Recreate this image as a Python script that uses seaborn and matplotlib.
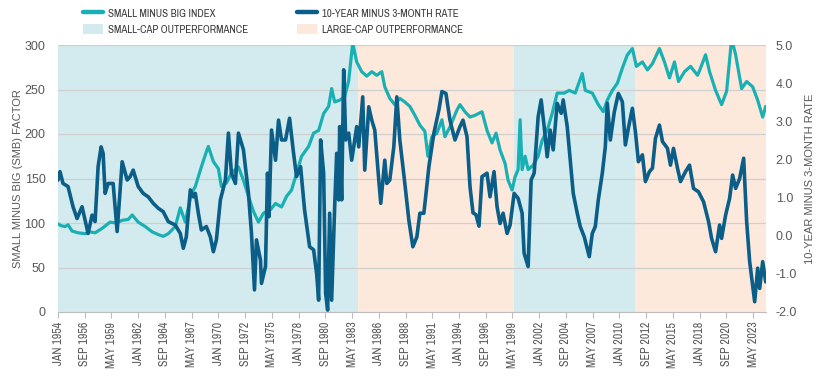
import matplotlib
matplotlib.use("Agg")
import matplotlib.pyplot as plt
import seaborn as sns
from matplotlib import font_manager as fm
from matplotlib.lines import Line2D
from matplotlib.patches import Patch

# ---------------- data ----------------
smb_year = [1954.0, 1954.3, 1954.7, 1955.0, 1955.4, 1956.0, 1956.7, 1957.2, 1957.7, 1958.4,
            1959.2, 1959.8, 1960.4, 1961.0, 1961.4, 1962.0, 1962.7, 1963.4, 1964.0, 1964.5,
            1965.0, 1965.7, 1966.2, 1966.7, 1967.3, 1967.7, 1968.3, 1968.8, 1969.0, 1969.5,
            1970.0, 1970.3, 1970.8, 1971.3, 1972.0, 1972.5, 1973.0, 1973.5, 1974.0, 1974.5,
            1975.2, 1975.7, 1976.3, 1976.8, 1977.3, 1977.8, 1978.3, 1979.0, 1979.5, 1980.0,
            1980.5, 1981.0, 1981.3, 1981.6, 1982.1, 1982.6, 1983.0, 1983.4, 1983.8, 1984.3,
            1984.8, 1985.3, 1985.8, 1986.3, 1986.6, 1987.1, 1987.6, 1988.1, 1988.6, 1989.1,
            1989.6, 1990.1, 1990.6, 1990.9, 1991.3, 1991.8, 1992.3, 1992.6, 1993.1, 1993.8,
            1994.1, 1994.6, 1995.1, 1995.6, 1996.3, 1996.8, 1997.3, 1997.7, 1998.1, 1998.6,
            1998.9, 1999.3, 1999.6, 1999.9, 2000.1, 2000.3, 2000.6, 2000.9, 2001.4, 2001.9,
            2002.3, 2002.8, 2003.3, 2003.8, 2004.5, 2005.0, 2005.6, 2006.3, 2006.6, 2007.3,
            2007.9, 2008.4, 2008.8, 2009.3, 2009.8, 2010.3, 2010.8, 2011.3, 2011.7, 2012.3,
            2012.8, 2013.3, 2014.0, 2014.5, 2015.0, 2015.5, 2015.9, 2016.5, 2017.1, 2017.8,
            2018.1, 2018.6, 2019.0, 2019.6, 2020.2, 2020.7, 2021.2, 2021.6, 2022.2, 2022.7,
            2023.3, 2023.8, 2024.3, 2024.6]
smb_value = [99, 97, 96, 98, 91, 89, 88, 90, 89, 94,
             101, 100, 103, 104, 109, 101, 96, 90, 87, 85,
             88, 96, 117, 101, 133, 141, 163, 180, 186, 169,
             161, 141, 145, 156, 163, 148, 130, 113, 101, 111,
             115, 122, 118, 130, 137, 156, 175, 186, 201, 204,
             223, 231, 251, 236, 238, 242, 260, 302, 281, 270,
             265, 270, 266, 270, 253, 240, 233, 240, 236, 231,
             221, 210, 203, 175, 197, 201, 216, 197, 208, 227,
             233, 225, 219, 221, 225, 204, 190, 201, 182, 167,
             148, 137, 152, 160, 216, 160, 175, 160, 165, 175,
             193, 204, 223, 246, 246, 249, 246, 268, 249, 246,
             233, 225, 238, 249, 257, 274, 289, 296, 276, 281,
             272, 279, 296, 281, 263, 281, 259, 270, 276, 266,
             274, 289, 270, 249, 233, 248, 307, 289, 251, 259,
             253, 238, 219, 231]

rate_year = [1954.0, 1954.2, 1954.5, 1955.0, 1955.5, 1955.9, 1956.4, 1956.7, 1957.0, 1957.4,
             1957.7, 1958.0, 1958.3, 1958.5, 1958.7, 1959.0, 1959.5, 1959.9, 1960.2, 1960.4,
             1960.9, 1961.2, 1961.5, 1962.0, 1962.5, 1963.0, 1963.5, 1964.0, 1964.5, 1965.0,
             1965.7, 1966.2, 1966.5, 1966.8, 1967.2, 1967.5, 1967.7, 1968.0, 1968.3, 1968.8,
             1969.2, 1969.5, 1969.8, 1970.2, 1970.7, 1971.0, 1971.3, 1971.7, 1972.0, 1972.5,
             1973.0, 1973.3, 1973.6, 1973.8, 1974.2, 1974.3, 1974.7, 1974.9, 1975.05, 1975.3,
             1975.7, 1976.0, 1976.3, 1976.7, 1977.1, 1977.5, 1977.8, 1978.2, 1978.6, 1979.1,
             1979.5, 1979.8, 1980.0, 1980.2, 1980.5, 1980.7, 1980.9, 1981.1, 1981.3, 1981.6,
             1981.8, 1982.0, 1982.1, 1982.3, 1982.5, 1982.7, 1983.0, 1983.3, 1983.8, 1984.0,
             1984.4, 1984.6, 1985.0, 1985.3, 1985.6, 1986.0, 1986.2, 1986.6, 1986.8, 1987.1,
             1987.5, 1987.8, 1988.1, 1988.6, 1989.0, 1989.4, 1989.8, 1990.1, 1990.5, 1991.0,
             1991.5, 1992.0, 1992.3, 1992.7, 1993.1, 1993.6, 1994.1, 1994.4, 1994.8, 1995.1,
             1995.4, 1995.7, 1996.0, 1996.3, 1996.8, 1997.1, 1997.5, 1997.8, 1998.1, 1998.4,
             1998.8, 1999.1, 1999.5, 1999.9, 2000.3, 2000.5, 2000.9, 2001.2, 2001.5, 2001.9,
             2002.2, 2002.5, 2002.8, 2003.1, 2003.4, 2003.8, 2004.2, 2004.4, 2004.8, 2005.1,
             2005.4, 2005.8, 2006.1, 2006.5, 2007.0, 2007.3, 2007.6, 2007.9, 2008.3, 2008.6,
             2008.8, 2009.1, 2009.5, 2009.9, 2010.3, 2010.6, 2010.9, 2011.3, 2011.6, 2011.9,
             2012.3, 2012.6, 2013.0, 2013.3, 2013.6, 2014.0, 2014.3, 2014.8, 2015.1, 2015.4,
             2015.8, 2016.1, 2016.6, 2017.0, 2017.4, 2017.9, 2018.4, 2018.9, 2019.2, 2019.6,
             2020.0, 2020.2, 2020.6, 2021.0, 2021.3, 2021.6, 2022.0, 2022.4, 2022.7, 2023.0,
             2023.5, 2023.8, 2024.0, 2024.3, 2024.6]
rate_value = [1.46, 1.68, 1.37, 1.29, 0.76, 0.45, 0.76, 0.41, 0.06, 0.54,
              0.37, 1.81, 2.33, 2.16, 1.11, 1.37, 1.37, 0.11, 1.20, 1.94,
              1.46, 1.55, 1.72, 1.29, 1.11, 1.02, 0.85, 0.72, 0.63, 0.37,
              0.28, 0.06, -0.33, -0.03, 1.20, 1.02, 1.11, 0.59, 0.15, 0.24,
              -0.03, -0.42, -0.11, 0.94, 1.46, 2.69, 1.64, 1.37, 2.69, 2.25,
              1.11, 0.06, -1.42, -0.11, -0.64, -1.25, -0.81, 1.64, 0.50, 2.77,
              1.98, 3.03, 2.51, 2.51, 3.08, 2.16, 1.55, 1.81, 0.67, -0.29,
              -0.37, -0.99, -1.69, 2.51, 1.64, -1.51, -1.95, 0.59, -1.69, 0.76,
              2.16, 0.94, 2.86, 0.94, 4.35, 2.51, 2.69, 1.98, 2.86, 2.33,
              3.64, 1.72, 3.38, 3.03, 2.77, 1.46, 0.85, 1.98, 1.37, 1.46,
              2.33, 3.64, 2.51, 1.37, 0.41, -0.29, -0.03, 0.59, 0.59, 1.81,
              2.69, 3.30, 3.78, 3.73, 3.03, 2.51, 2.86, 3.03, 2.60, 1.29,
              0.60, 0.55, 0.25, 1.55, 1.64, 1.02, 1.68, 0.76, 0.32, 0.59,
              0.06, 0.28, 1.11, 0.98, 0.59, -0.46, -0.81, 1.46, 1.64, 3.12,
              3.56, 2.86, 2.07, 2.77, 2.25, 3.47, 3.21, 3.56, 2.86, 1.98,
              1.11, 0.59, 0.24, -0.03, -0.55, 0.06, 0.24, 0.94, 1.64, 2.33,
              3.47, 2.51, 3.25, 3.73, 3.51, 2.38, 2.82, 3.34, 2.73, 1.94,
              2.12, 1.42, 1.68, 1.77, 2.55, 2.90, 2.47, 2.29, 1.85, 2.29,
              1.77, 1.42, 1.68, 1.85, 1.24, 1.15, 0.89, 0.37, -0.07, -0.42,
              0.28, -0.07, 0.54, 0.98, 1.59, 1.24, 1.50, 2.03, 0.37, -0.68,
              -1.73, -0.85, -1.38, -0.68, -1.21]

period_start = [1954.0, 1983.92, 1999.52, 2011.6]
period_end = [1983.92, 1999.52, 2011.6, 2024.63]
period_kind = ["small", "large", "small", "large"]

tick_labels = ["JAN 1954", "SEP 1956", "MAY 1959", "JAN 1962", "SEP 1964", "MAY 1967",
               "JAN 1970", "SEP 1972", "MAY 1975", "JAN 1978", "SEP 1980", "MAY 1983",
               "JAN 1986", "SEP 1988", "MAY 1991", "JAN 1994", "SEP 1996", "MAY 1999",
               "JAN 2002", "SEP 2004", "MAY 2007", "JAN 2010", "SEP 2012", "MAY 2015",
               "JAN 2018", "SEP 2020", "MAY 2023"]
left_ticks = [0, 50, 100, 150, 200, 250, 300]
right_ticks = [-2.0, -1.0, 0.0, 1.0, 2.0, 3.0, 4.0, 5.0]

series_labels = ["SMALL MINUS BIG INDEX", "10-YEAR MINUS 3-MONTH RATE"]
period_labels = {"small": "SMALL-CAP OUTPERFORMANCE", "large": "LARGE-CAP OUTPERFORMANCE"}

# ---------------- style ----------------
TEAL = "#19b0b3"
DARK = "#0a5e87"
SHADE = {"small": "#d3ebee", "large": "#fde8dc"}
TXT = "#595959"
GRID = "#cfcfcf"

sns.set_style("white")


def has_family(name):
    try:
        fm.findfont(fm.FontProperties(family=name), fallback_to_default=False)
        return True
    except Exception:
        return False


REG = "Liberation Sans" if has_family("Liberation Sans") else "DejaVu Sans"
plt.rcParams["font.family"] = [REG, "DejaVu Sans"]


def narrow_props(size):
    """Find a narrow/condensed regular sans font; fall back to the regular one."""
    best = None
    for f in fm.fontManager.ttflist:
        fn = f.fname.lower()
        if any(b in fn for b in ("bold", "oblique", "italic")):
            continue
        if "narrow" in f.name.lower() or "narrow" in fn:
            best = f.fname
            break
        if (str(f.stretch) in ("condensed", "semi-condensed") or "condensed" in fn) and "sans" in f.name.lower():
            if "mono" in fn:
                continue
            best = best or f.fname
    if best:
        return fm.FontProperties(fname=best, size=size), True
    return fm.FontProperties(family=REG, size=size * 0.86), False


fig = plt.figure(figsize=(8.22, 3.86), dpi=100)
ax = fig.add_axes([58 / 822, 1 - 312 / 386, 708 / 822, 267 / 386])
ax2 = ax.twinx()

for s, e, k in zip(period_start, period_end, period_kind):
    ax.axvspan(s, e, color=SHADE[k], lw=0, zorder=0)

for t in left_ticks[1:]:
    ax.axhline(t, color=GRID, lw=0.9, zorder=0.5)

sns.lineplot(x=smb_year, y=smb_value, ax=ax, color=TEAL, lw=2.3, zorder=2)
sns.lineplot(x=rate_year, y=rate_value, ax=ax2, color=DARK, lw=2.6, zorder=3)

ax.set_xlim(1954.0, 2024.63)
ax.set_ylim(0, 300)
ax2.set_ylim(-2, 5)

month_num = {"JAN": 1, "MAY": 5, "SEP": 9}
tick_pos = [int(l.split()[1]) + (month_num[l.split()[0]] - 1) / 12 for l in tick_labels]
ax.set_xticks(tick_pos)
fp_tick, _ = narrow_props(8.6)
ax.set_xticklabels(tick_labels, rotation=90, color=TXT, fontproperties=fp_tick)
ax.tick_params(axis="x", length=4, width=0.8, color="#bdbdbd", pad=3, bottom=True)

ax.set_yticks(left_ticks)
ax.set_yticklabels([str(v) for v in left_ticks], fontsize=9, color=TXT)
ax.tick_params(axis="y", length=0, pad=9)
ax2.set_yticks(right_ticks)
ax2.set_yticklabels([f"{v:.1f}" for v in right_ticks], fontsize=9, color=TXT)
ax2.tick_params(axis="y", length=0, pad=7)

for a in (ax, ax2):
    for side in ("top", "left", "right"):
        a.spines[side].set_visible(False)
    a.grid(False)
ax.spines["bottom"].set_color("#bdbdbd")
ax.spines["bottom"].set_linewidth(0.8)
ax2.spines["bottom"].set_visible(False)

ax.set_ylabel("SMALL MINUS BIG (SMB) FACTOR", fontsize=8.0, color=TXT, labelpad=1)
ax2.set_ylabel("10-YEAR MINUS 3-MONTH RATE", fontsize=8.0, color=TXT, labelpad=6)
ax.set_xlabel("")

# legends (two columns placed independently)
fp_leg, _ = narrow_props(7.8)
leg_kw = dict(loc="upper left", frameon=False, borderpad=0, borderaxespad=0,
              handlelength=1.8, handleheight=1.0, handletextpad=0.5, labelspacing=0.5,
              prop=fp_leg, labelcolor="#3a3a3a")
h1 = [Line2D([0], [0], color=TEAL, lw=3.2), Patch(facecolor=SHADE["small"], edgecolor="none")]
h2 = [Line2D([0], [0], color=DARK, lw=3.2), Patch(facecolor=SHADE["large"], edgecolor="none")]
fig.legend(h1, [series_labels[0], period_labels["small"]], bbox_to_anchor=(83 / 822, 1 - 8 / 386), **leg_kw)
fig.legend(h2, [series_labels[1], period_labels["large"]], bbox_to_anchor=(297 / 822, 1 - 8 / 386), **leg_kw)

fig.savefig("out.png", dpi=100)
